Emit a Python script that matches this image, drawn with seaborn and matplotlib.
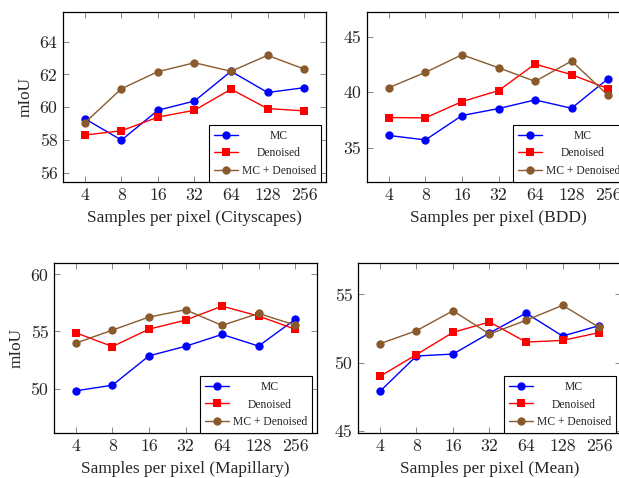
import numpy as np
import pandas as pd
import matplotlib
matplotlib.use("Agg")
import matplotlib.pyplot as plt
import seaborn as sns

# samples per pixel (categorical x)
spp = ["4", "8", "16", "32", "64", "128", "256"]
methods = ["MC", "Denoised", "MC + Denoised"]

# mIoU per dataset
city_mc = [59.3, 58.0, 59.82, 60.38, 62.19, 60.9, 61.19]
city_den = [58.31, 58.57, 59.4, 59.82, 61.1, 59.92, 59.78]
city_both = [59.06, 61.13, 62.17, 62.71, 62.19, 63.16, 62.33]

bdd_mc = [36.1, 35.7, 37.9, 38.53, 39.31, 38.56, 41.23]
bdd_den = [37.72, 37.69, 39.16, 40.15, 42.55, 41.59, 40.33]
bdd_both = [40.42, 41.8, 43.39, 42.22, 40.99, 42.82, 39.73]

map_mc = [49.8, 50.29, 52.86, 53.7, 54.74, 53.72, 56.05]
map_den = [54.88, 53.68, 55.2, 55.99, 57.22, 56.35, 55.2]
map_both = [53.98, 55.12, 56.26, 56.9, 55.53, 56.58, 55.56]

mean_mc = [47.9, 50.49, 50.63, 52.17, 53.63, 51.95, 52.71]
mean_den = [49.0, 50.59, 52.22, 52.98, 51.51, 51.63, 52.2]
mean_both = [51.39, 52.34, 53.8, 52.1, 53.1, 54.2, 52.59]

sns.set_style("ticks")
plt.rcParams["font.family"] = ["Liberation Serif", "DejaVu Serif"]

colors = {"MC": "#0000ff", "Denoised": "#ff0000", "MC + Denoised": "#8a5a2c"}
marks = {"MC": "o", "Denoised": "s", "MC + Denoised": "o"}

W, H = 619, 478
fig = plt.figure(figsize=(W / 100, H / 100), dpi=100)

# (left, top) in pixels, panel size 263x170
panels = [
    ((63, 12), [city_mc, city_den, city_both], "Cityscapes", (55.45, 65.8), [56, 58, 60, 62, 64], True),
    ((367, 12), [bdd_mc, bdd_den, bdd_both], "BDD", (31.9, 47.25), [35, 40, 45], False),
    ((54, 263), [map_mc, map_den, map_both], "Mapillary", (46.1, 61.0), [50, 55, 60], True),
    ((358, 263), [mean_mc, mean_den, mean_both], "Mean", (44.85, 57.3), [45, 50, 55], False),
]

legends = []
for (px, py), series, name, ylim, yticks, ylab in panels:
    ax = fig.add_axes([px / W, 1 - (py + 170) / H, 263 / W, 170 / H])
    for m, vals in zip(methods, series):
        df = pd.DataFrame({"spp": spp, "miou": vals})
        sns.lineplot(data=df, x="spp", y="miou", color=colors[m], marker=marks[m],
                     markersize=6, markeredgewidth=0, linewidth=1.0, label=m, ax=ax)
    ax.set_xlim(-0.6, 6.6)
    ax.set_ylim(*ylim)
    ax.set_yticks(yticks)
    ax.set_xticks(range(len(spp)))
    ax.set_xticklabels(spp)
    for lab in ax.get_xticklabels() + ax.get_yticklabels():
        lab.set_fontfamily("cmr10")
        lab.set_fontsize(12.8)
    ax.tick_params(direction="in", top=True, right=True, length=4, width=0.6,
                   color="0.45", pad=4)
    for sp in ax.spines.values():
        sp.set_visible(True)
        sp.set_color("black")
        sp.set_linewidth(0.9)
    ax.set_xlabel(f"Samples per pixel ({name})", fontsize=12.4, labelpad=5)
    ax.set_ylabel("mIoU" if ylab else "", fontsize=12.4, labelpad=4)
    leg = ax.legend(loc="lower right", bbox_to_anchor=(0.98, 0.0), borderaxespad=0,
                    fontsize=8.4, frameon=True, fancybox=False, framealpha=1,
                    edgecolor="black", handlelength=2.1, handletextpad=0.3,
                    borderpad=0.4, labelspacing=0.5)
    leg.get_frame().set_linewidth(0.8)
    legends.append(leg)

# center legend entries like pgfplots
fig.canvas.draw()
r = fig.canvas.get_renderer()
for leg in legends:
    texts = leg.get_texts()
    widths = [t.get_window_extent(r).width for t in texts]
    wmax = max(widths)
    for t, w in zip(texts, widths):
        t.set_x((wmax - w) / 2)

fig.savefig("out.png", dpi=100)
